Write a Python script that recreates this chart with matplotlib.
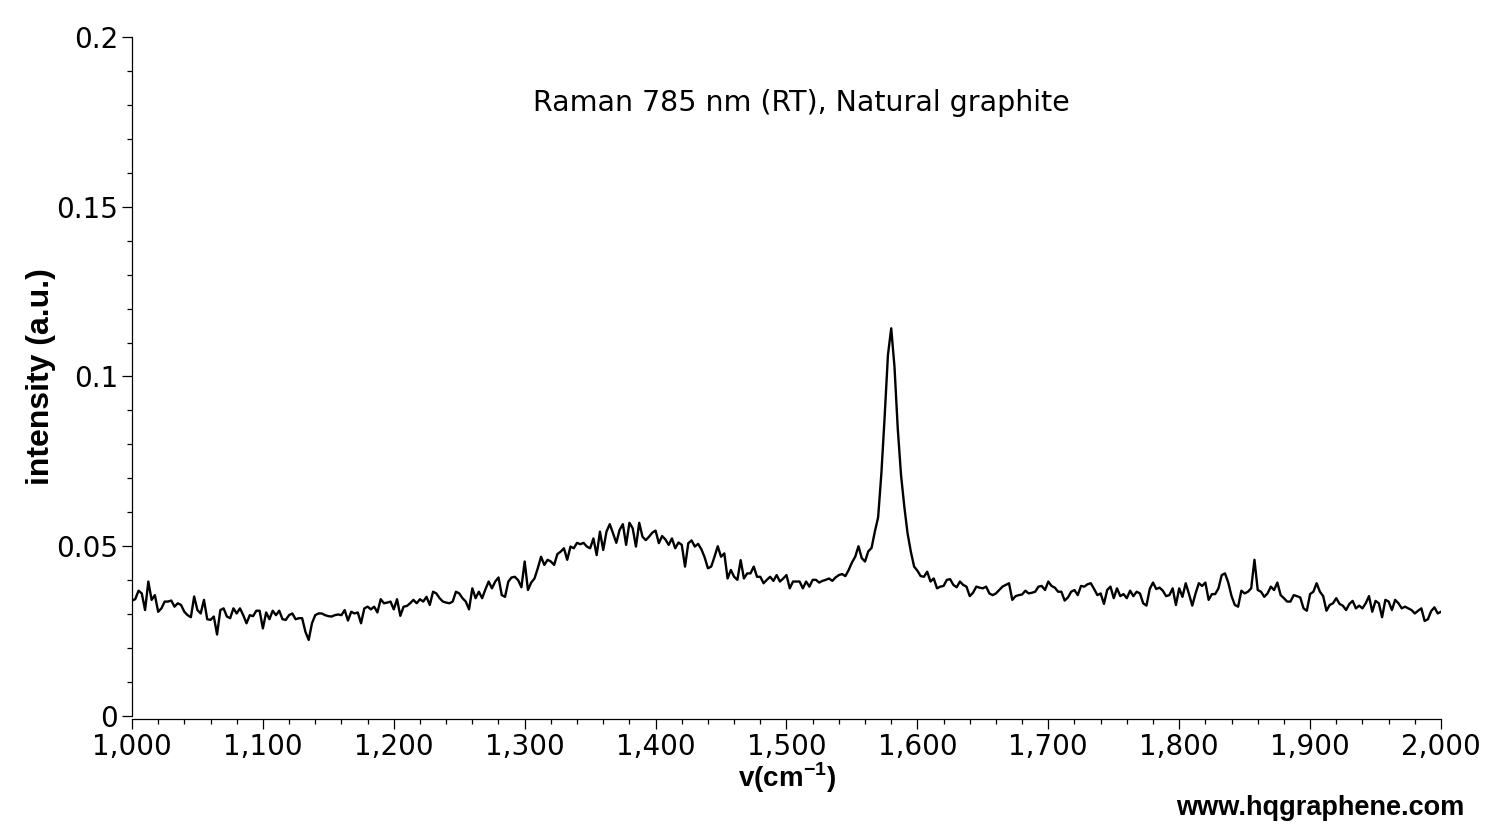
import matplotlib
matplotlib.use("Agg")
import matplotlib.pyplot as plt
import numpy as np
from matplotlib.ticker import MultipleLocator, FuncFormatter

# intensity (a.u.), 2.5 cm-1 steps from 1000 to 2000 cm-1
int_1000_1202 = [
    0.0340, 0.0344, 0.0369, 0.0361, 0.0312, 0.0396, 0.0342, 0.0356, 0.0307, 0.0317,
    0.0337, 0.0337, 0.0340, 0.0322, 0.0332, 0.0327, 0.0307, 0.0297, 0.0291, 0.0352,
    0.0312, 0.0302, 0.0342, 0.0285, 0.0283, 0.0293, 0.0240, 0.0312, 0.0317, 0.0293,
    0.0288, 0.0317, 0.0302, 0.0317, 0.0297, 0.0273, 0.0297, 0.0294, 0.0310, 0.0310,
    0.0258, 0.0305, 0.0285, 0.0310, 0.0297, 0.0310, 0.0285, 0.0283, 0.0297, 0.0302,
    0.0285, 0.0288, 0.0288, 0.0248, 0.0224, 0.0273, 0.0297, 0.0302, 0.0302, 0.0297,
    0.0294, 0.0293, 0.0297, 0.0299, 0.0297, 0.0312, 0.0281, 0.0307, 0.0302, 0.0305,
    0.0273, 0.0317, 0.0322, 0.0314, 0.0322, 0.0305, 0.0344, 0.0332, 0.0334, 0.0337,
    0.0314, 0.0344,
]
int_1205_1410 = [
    0.0295, 0.0322, 0.0324, 0.0332, 0.0342, 0.0332, 0.0344, 0.0337, 0.0351, 0.0327,
    0.0366, 0.0361, 0.0347, 0.0337, 0.0334, 0.0332, 0.0337, 0.0366, 0.0361, 0.0347,
    0.0337, 0.0314, 0.0376, 0.0347, 0.0366, 0.0347, 0.0373, 0.0396, 0.0376, 0.0396,
    0.0408, 0.0356, 0.0351, 0.0396, 0.0408, 0.0410, 0.0400, 0.0379, 0.0455, 0.0371,
    0.0393, 0.0405, 0.0435, 0.0469, 0.0445, 0.0460, 0.0455, 0.0445, 0.0477, 0.0484,
    0.0494, 0.0460, 0.0499, 0.0494, 0.0510, 0.0506, 0.0510, 0.0499, 0.0494, 0.0523,
    0.0474, 0.0543, 0.0489, 0.0543, 0.0565, 0.0538, 0.0510, 0.0548, 0.0565, 0.0504,
    0.0569, 0.0553, 0.0499, 0.0569, 0.0528, 0.0518, 0.0528, 0.0540, 0.0546, 0.0509,
    0.0530, 0.0520, 0.0504,
]
int_1412_1565 = [
    0.0523, 0.0494, 0.0511, 0.0504, 0.0440, 0.0509, 0.0517, 0.0499, 0.0507, 0.0491,
    0.0467, 0.0435, 0.0440, 0.0469, 0.0500, 0.0469, 0.0479, 0.0405, 0.0430, 0.0410,
    0.0401, 0.0459, 0.0405, 0.0420, 0.0420, 0.0440, 0.0410, 0.0410, 0.0391, 0.0401,
    0.0410, 0.0398, 0.0415, 0.0396, 0.0405, 0.0415, 0.0376, 0.0396, 0.0396, 0.0396,
    0.0376, 0.0396, 0.0381, 0.0401, 0.0401, 0.0393, 0.0398, 0.0401, 0.0405, 0.0398,
    0.0408, 0.0415, 0.0418, 0.0412, 0.0430, 0.0452, 0.0469, 0.0500, 0.0465, 0.0455,
    0.0485, 0.0495,
]
int_1567_1630 = [
    0.0543, 0.0585, 0.0715, 0.0882, 0.1063, 0.1142, 0.1029, 0.0847, 0.0710, 0.0617,
    0.0538, 0.0484, 0.0440, 0.0428, 0.0412, 0.0410, 0.0425, 0.0396, 0.0405, 0.0376,
    0.0381, 0.0383, 0.0401, 0.0403, 0.0386, 0.0379,
]
int_1632_1822 = [
    0.0396, 0.0386, 0.0381, 0.0353, 0.0363, 0.0381, 0.0378, 0.0376, 0.0381, 0.0361,
    0.0356, 0.0361, 0.0371, 0.0381, 0.0386, 0.0391, 0.0342, 0.0353, 0.0356, 0.0358,
    0.0369, 0.0361, 0.0363, 0.0366, 0.0381, 0.0383, 0.0371, 0.0396, 0.0383, 0.0378,
    0.0366, 0.0366, 0.0340, 0.0349, 0.0366, 0.0371, 0.0356, 0.0383, 0.0381, 0.0388,
    0.0391, 0.0374, 0.0356, 0.0361, 0.0330, 0.0371, 0.0381, 0.0347, 0.0376, 0.0353,
    0.0359, 0.0347, 0.0369, 0.0353, 0.0366, 0.0361, 0.0332, 0.0325, 0.0374, 0.0393,
    0.0374, 0.0378, 0.0369, 0.0353, 0.0356, 0.0376, 0.0327, 0.0376, 0.0351, 0.0391,
    0.0359, 0.0325, 0.0361, 0.0391, 0.0383, 0.0393, 0.0342,
]
int_1825_2000 = [
    0.0359, 0.0359, 0.0376, 0.0415, 0.0420, 0.0393, 0.0353, 0.0327, 0.0322, 0.0369,
    0.0361, 0.0366, 0.0376, 0.0460, 0.0371, 0.0366, 0.0351, 0.0361, 0.0381, 0.0371,
    0.0393, 0.0356, 0.0347, 0.0337, 0.0337, 0.0356, 0.0353, 0.0349, 0.0317, 0.0310,
    0.0359, 0.0366, 0.0391, 0.0366, 0.0353, 0.0310, 0.0327, 0.0332, 0.0347, 0.0330,
    0.0325, 0.0312, 0.0330, 0.0339, 0.0317, 0.0325, 0.0317, 0.0332, 0.0353, 0.0307,
    0.0339, 0.0332, 0.0291, 0.0342, 0.0337, 0.0312, 0.0342, 0.0332, 0.0317, 0.0322,
    0.0317, 0.0312, 0.0302, 0.0310, 0.0317, 0.0280, 0.0285, 0.0309, 0.0320, 0.0302,
    0.0307,
]

intensity = np.array(int_1000_1202 + int_1205_1410 + int_1412_1565
                     + int_1567_1630 + int_1632_1822 + int_1825_2000)
wavenumber = np.linspace(1000, 2000, 401)

plt.rcParams["font.family"] = "DejaVu Sans"
plt.rcParams["mathtext.fontset"] = "custom"
plt.rcParams["mathtext.rm"] = "Liberation Sans:bold"
plt.rcParams["mathtext.bf"] = "Liberation Sans:bold"

fig = plt.figure(figsize=(15.1, 8.26), dpi=100)
ax = fig.add_axes([0.0874, 0.1332, 0.8669, 0.8220])

ax.plot(wavenumber, intensity, color="black", lw=1.7)

ax.set_xlim(1000, 2000)
ax.set_ylim(0, 0.2)
ax.xaxis.set_major_locator(MultipleLocator(100))
ax.xaxis.set_minor_locator(MultipleLocator(20))
ax.yaxis.set_major_locator(MultipleLocator(0.05))
ax.yaxis.set_minor_locator(MultipleLocator(0.01))
ax.xaxis.set_major_formatter(FuncFormatter(lambda v, p: f"{v:,.0f}"))
ax.yaxis.set_major_formatter(FuncFormatter(lambda v, p: f"{v:g}"))

for s in ["top", "right"]:
    ax.spines[s].set_visible(False)
ax.spines["bottom"].set_position(("outward", 2))
for s in ["left", "bottom"]:
    ax.spines[s].set_linewidth(0.9)

ax.tick_params(which="major", length=7, width=0.9, labelsize=20, pad=3)
ax.tick_params(which="minor", length=3.5, width=0.9)

ax.set_ylabel("intensity (a.u.)", fontfamily="Liberation Sans",
              fontweight="bold", fontsize=23, labelpad=0)
ax.set_xlabel(r"v(cm$^{-1}$)", fontfamily="Liberation Sans",
              fontweight="bold", fontsize=20, labelpad=0)

ax.text(0.5115, 0.903, "Raman 785 nm (RT), Natural graphite",
        transform=ax.transAxes, ha="center", va="center", fontsize=20.5)

fig.text(1464 / 1510, 1 - 808 / 826, "www.hqgraphene.com",
         fontfamily="Liberation Sans", fontweight="bold", fontsize=19.5,
         ha="right", va="center")

fig.savefig("out.png", dpi=100)
